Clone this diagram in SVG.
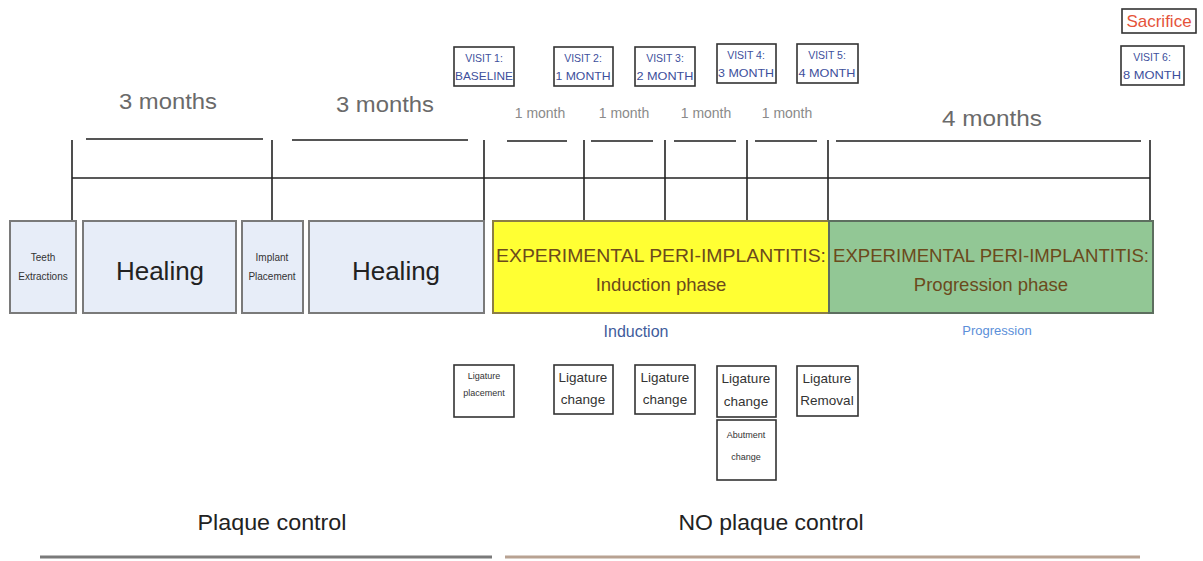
<svg xmlns="http://www.w3.org/2000/svg" width="1203" height="561" viewBox="0 0 1203 561">
<style>
text{font-family:"Liberation Sans",Arial,sans-serif;text-anchor:middle}
.dur{fill:#6a6a6a;font-size:22px}
.mon{fill:#8a8a8a;font-size:14px}
.vis{fill:#3d4f9c;font-size:10.5px}
.vbox{fill:#fff;stroke:#333;stroke-width:1.6}
.pbox{fill:#e7edf8;stroke:#7a7a7a;stroke-width:2}
.lbox{fill:#fff;stroke:#333;stroke-width:1.6}
.lig{fill:#333;font-size:13.5px}
.ligs{fill:#333;font-size:9px}
.small{fill:#333;font-size:10px}
.heal{fill:#222;font-size:26px}
.phase{fill:#6b4a1c;font-size:18.5px}
.tl{stroke:#222;stroke-width:1.6;fill:none}
.ul{stroke:#555;stroke-width:2;fill:none}
.bot{fill:#222;font-size:22px}
</style>
<rect width="1203" height="561" fill="#fff"/>

<g id="connectors">
  <line class="tl" x1="72" y1="178" x2="1150" y2="178"/>
  <line class="tl" x1="72" y1="140" x2="72" y2="221"/>
  <line class="tl" x1="272" y1="140" x2="272" y2="221"/>
  <line class="tl" x1="484" y1="140" x2="484" y2="221"/>
  <line class="tl" x1="584" y1="140" x2="584" y2="221"/>
  <line class="tl" x1="665" y1="140" x2="665" y2="221"/>
  <line class="tl" x1="747" y1="140" x2="747" y2="221"/>
  <line class="tl" x1="828" y1="140" x2="828" y2="221"/>
  <line class="tl" x1="1150" y1="140" x2="1150" y2="221"/>
  <line class="ul" x1="86" y1="139" x2="263" y2="139"/>
  <line class="ul" x1="292" y1="140" x2="468" y2="140"/>
  <line class="ul" x1="507" y1="141" x2="567" y2="141"/>
  <line class="ul" x1="591" y1="141" x2="653" y2="141"/>
  <line class="ul" x1="674" y1="141" x2="736" y2="141"/>
  <line class="ul" x1="755" y1="141" x2="817" y2="141"/>
  <line class="ul" x1="836" y1="141" x2="1141" y2="141"/>
  <line x1="40" y1="557" x2="492" y2="557" stroke="#7a7a7a" stroke-width="3"/>
  <line x1="505" y1="557" x2="1140" y2="557" stroke="#b8a292" stroke-width="3"/>
</g>

<g id="durations">
  <text class="dur" x="168" y="109" textLength="98" lengthAdjust="spacingAndGlyphs">3 months</text>
  <text class="dur" x="385" y="112" textLength="98" lengthAdjust="spacingAndGlyphs">3 months</text>
  <text class="dur" x="992" y="126" textLength="100" lengthAdjust="spacingAndGlyphs">4 months</text>
  <text class="mon" x="540" y="118">1 month</text>
  <text class="mon" x="624" y="118">1 month</text>
  <text class="mon" x="706" y="118">1 month</text>
  <text class="mon" x="787" y="118">1 month</text>
</g>

<g id="visit1"><rect class="vbox" x="454" y="47" width="60" height="39"/><text class="vis" x="484" y="62">VISIT 1:</text><text class="vis" x="484" y="80" textLength="58" lengthAdjust="spacingAndGlyphs">BASELINE</text></g>
<g id="visit2"><rect class="vbox" x="554" y="47" width="59" height="39"/><text class="vis" x="583" y="62">VISIT 2:</text><text class="vis" x="583" y="80" textLength="55" lengthAdjust="spacingAndGlyphs">1 MONTH</text></g>
<g id="visit3"><rect class="vbox" x="635" y="47" width="60" height="39"/><text class="vis" x="665" y="62">VISIT 3:</text><text class="vis" x="665" y="80" textLength="57" lengthAdjust="spacingAndGlyphs">2 MONTH</text></g>
<g id="visit4"><rect class="vbox" x="717" y="44" width="59" height="39"/><text class="vis" x="746" y="59">VISIT 4:</text><text class="vis" x="746" y="77" textLength="56" lengthAdjust="spacingAndGlyphs">3 MONTH</text></g>
<g id="visit5"><rect class="vbox" x="797" y="44" width="61" height="39"/><text class="vis" x="827" y="59">VISIT 5:</text><text class="vis" x="827" y="77" textLength="57" lengthAdjust="spacingAndGlyphs">4 MONTH</text></g>
<g id="sacrifice"><rect class="vbox" x="1122" y="9" width="74" height="24"/><text x="1159" y="27" fill="#e5533a" font-size="17">Sacrifice</text></g>
<g id="visit6"><rect class="vbox" x="1121" y="46" width="63" height="39"/><text class="vis" x="1152" y="61">VISIT 6:</text><text class="vis" x="1152" y="79" textLength="58" lengthAdjust="spacingAndGlyphs">8 MONTH</text></g>

<g id="teeth"><rect class="pbox" x="10" y="221" width="66" height="92"/><text class="small" x="43" y="261">Teeth</text><text class="small" x="43" y="280">Extractions</text></g>
<g id="healing1"><rect class="pbox" x="83" y="221" width="153" height="92"/><text class="heal" x="160" y="280">Healing</text></g>
<g id="implant"><rect class="pbox" x="242" y="221" width="61" height="92"/><text class="small" x="272" y="261">Implant</text><text class="small" x="272" y="280">Placement</text></g>
<g id="healing2"><rect class="pbox" x="309" y="221" width="175" height="92"/><text class="heal" x="396" y="280">Healing</text></g>
<g id="induction"><rect x="493" y="221" width="336" height="92" fill="#ffff33" stroke="#8c7d45" stroke-width="2"/><text class="phase" x="661" y="262" textLength="330" lengthAdjust="spacingAndGlyphs">EXPERIMENTAL PERI-IMPLANTITIS:</text><text class="phase" x="661" y="291">Induction phase</text></g>
<g id="progression"><rect x="829" y="221" width="324" height="92" fill="#92c795" stroke="#5d6e5f" stroke-width="2"/><text class="phase" x="991" y="262" textLength="316" lengthAdjust="spacingAndGlyphs">EXPERIMENTAL PERI-IMPLANTITIS:</text><text class="phase" x="991" y="291">Progression phase</text></g>

<text x="636" y="337" fill="#3f5c9c" font-size="16">Induction</text>
<text x="997" y="335" fill="#5b8fd9" font-size="13">Progression</text>

<g id="lig1"><rect class="lbox" x="454" y="365" width="60" height="52"/><text class="ligs" x="484" y="379">Ligature</text><text class="ligs" x="484" y="396">placement</text></g>
<g id="lig2"><rect class="lbox" x="554" y="365" width="59" height="49"/><text class="lig" x="583" y="382">Ligature</text><text class="lig" x="583" y="404">change</text></g>
<g id="lig3"><rect class="lbox" x="635" y="365" width="60" height="49"/><text class="lig" x="665" y="382">Ligature</text><text class="lig" x="665" y="404">change</text></g>
<g id="lig4"><rect class="lbox" x="717" y="366" width="59" height="51"/><text class="lig" x="746" y="383">Ligature</text><text class="lig" x="746" y="406">change</text></g>
<g id="abutment"><rect class="lbox" x="717" y="420" width="59" height="60"/><text class="ligs" x="746" y="438">Abutment</text><text class="ligs" x="746" y="460">change</text></g>
<g id="lig5"><rect class="lbox" x="797" y="366" width="61" height="50"/><text class="lig" x="827" y="383">Ligature</text><text class="lig" x="827" y="405">Removal</text></g>

<text class="bot" x="272" y="530" textLength="149" lengthAdjust="spacingAndGlyphs">Plaque control</text>
<text class="bot" x="771" y="530" textLength="185" lengthAdjust="spacingAndGlyphs">NO plaque control</text>
</svg>
